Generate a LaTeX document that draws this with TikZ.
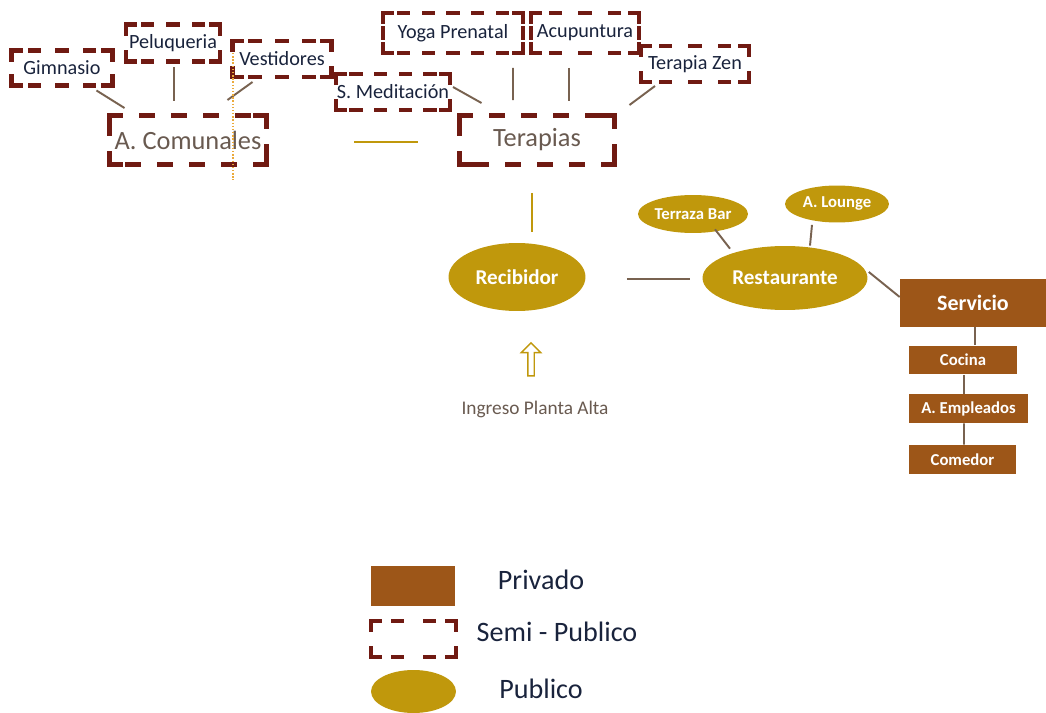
\documentclass[tikz,border=0pt]{standalone}
\usepackage{fontspec}
\setmainfont{Carlito}
\usetikzlibrary{decorations}
\usetikzlibrary{shapes.geometric}
\usetikzlibrary{shapes.arrows}
\definecolor{oro}{RGB}{192,152,12}
\definecolor{cafe}{RGB}{157,86,24}
\definecolor{vino}{RGB}{112,26,18}
\definecolor{linea}{RGB}{120,98,80}
\definecolor{tinta}{RGB}{25,35,60}
\definecolor{gris}{RGB}{105,90,80}
\definecolor{guia}{RGB}{235,170,60}

\begin{document}
\begin{tikzpicture}[
    x=0.02cm, y=-0.02cm,
    borde/.style={draw=vino, line width=0.085cm, line cap=rect, dash pattern=on 0.18cm off 0.3cm, dash expand off},
    borde grueso/.style={borde, line width=0.1cm, dash pattern=on 0.22cm off 0.42cm},
    esquina/.style={draw=vino, line width=#1, line cap=rect, line join=miter},
    marco/.style n args={3}{append after command={
        (\tikzlastnode.north west) edge[#1] (\tikzlastnode.north east)
        (\tikzlastnode.north east) edge[#1] (\tikzlastnode.south east)
        (\tikzlastnode.south east) edge[#1] (\tikzlastnode.south west)
        (\tikzlastnode.south west) edge[#1] (\tikzlastnode.north west)
        % corners
        ([shift={(0,#2)}]\tikzlastnode.north west) edge[esquina=#3, to path={|- (\tikztotarget)}] ([shift={(#2,0)}]\tikzlastnode.north west)
        ([shift={(-#2,0)}]\tikzlastnode.north east) edge[esquina=#3, to path={-| (\tikztotarget)}] ([shift={(0,#2)}]\tikzlastnode.north east)
        ([shift={(0,-#2)}]\tikzlastnode.south east) edge[esquina=#3, to path={|- (\tikztotarget)}] ([shift={(-#2,0)}]\tikzlastnode.south east)
        ([shift={(#2,0)}]\tikzlastnode.south west) edge[esquina=#3, to path={-| (\tikztotarget)}] ([shift={(0,-#2)}]\tikzlastnode.south west)}},
    semi/.style={marco={borde}{9}{0.085cm}, inner sep=0pt, outer sep=0pt, text=tinta, font=\fontsize{11.5}{13}\selectfont},
    zona/.style={marco={borde grueso}{11}{0.1cm}, inner sep=0pt, outer sep=0pt, text=gris, font=\fontsize{15}{17}\selectfont},
    publico/.style={ellipse, fill=oro, inner sep=0pt, text=white, font=\bfseries\fontsize{12}{14}\selectfont},
    chico/.style={publico, font=\bfseries\fontsize{9.5}{11}\selectfont},
    privado/.style={fill=cafe, inner sep=0pt, text=white, font=\bfseries\fontsize{9.5}{11}\selectfont},
    link/.style={draw=linea, line width=1.1pt},
    oro line/.style={draw=oro, line width=1.1pt},
    leyenda/.style={text=tinta, font=\fontsize{16}{18}\selectfont}
    ]
    \useasboundingbox (0,0) rectangle (1046,713);

    % semi - publico
    \node[zona, minimum width=3.14cm, minimum height=1cm] (acom) at (188,140) {A. Comunales};
    \node[semi, minimum width=2.02cm, minimum height=0.7cm] (gim) at (62,68) {Gimnasio};
    \node[semi, minimum width=1.88cm, minimum height=0.74cm] (pel) at (173,43) {Peluqueria};
    \node[semi, minimum width=1.98cm, minimum height=0.72cm] (ves) at (282,59) {Vestidores};
    \node[zona, minimum width=3.1cm, minimum height=1cm] (ter) at (537,140) {Terapias};
    \node[semi, minimum width=2.28cm, minimum height=0.72cm] (smed) at (393,92) {S. Meditación};
    \node[semi, minimum width=2.8cm, minimum height=0.8cm] (yoga) at (453,33) {Yoga Prenatal};
    \node[semi, minimum width=2.16cm, minimum height=0.8cm] (acu) at (585,33) {Acupuntura};
    \node[semi, minimum width=2.16cm, minimum height=0.72cm] (zen) at (695,64) {Terapia Zen};

    % publico
    \node[publico, minimum width=2.74cm, minimum height=1.36cm] (rec) at (517,277) {Recibidor};
    \node[publico, minimum width=3.3cm, minimum height=1.28cm] (rest) at (785,278) {Restaurante};
    \node[chico, minimum width=2.2cm, minimum height=0.76cm] (bar) at (693,214) {Terraza Bar};
    \node[chico, minimum width=2.08cm, minimum height=0.74cm] (lounge) at (837,204) {A. Lounge};

    % privado
    \node[privado, minimum width=2.92cm, minimum height=0.96cm, font=\bfseries\fontsize{12.5}{14}\selectfont] (serv) at (973,303) {Servicio};
    \node[privado, minimum width=2.16cm, minimum height=0.58cm] (coc) at (963,360) {Cocina};
    \node[privado, minimum width=2.38cm, minimum height=0.58cm] (emp) at (968.5,408.5) {A. Empleados};
    \node[privado, minimum width=2.14cm, minimum height=0.58cm] (com) at (962.5,459.5) {Comedor};

    % ingreso
    \node[single arrow, draw=oro, fill=white, line width=0.8pt, rotate=90, inner sep=0.05cm,
        single arrow head extend=0.13cm, minimum height=0.66cm] (flecha) at (531,361) {};
    \node[text=gris, font=\fontsize{11}{13}\selectfont] (ingreso) at (535,409) {Ingreso Planta Alta};

    % connectors
    \draw[link] ([shift={(-16,5)}]gim.south east) -- ([shift={(15,-7)}]acom.north west);
    \draw[link] ([shift={(1,6)}]pel.south) -- ([shift={(-14,-14)}]acom.north);
    \draw[link] ([shift={(20,5)}]ves.south west) -- ([shift={(-39,-15)}]acom.north east);
    \draw[link] ([shift={(3,-5)}]smed.east) -- ([shift={(22,-12)}]ter.north west);
    \draw[link] ([shift={(-10,15)}]yoga.south east) -- ([shift={(-24,-15)}]ter.north);
    \draw[link] ([shift={(-16,15)}]acu.south) -- ([shift={(32,-14)}]ter.north);
    \draw[link] ([shift={(14,4)}]zen.south west) -- ([shift={(15,-10)}]ter.north east);
    \draw[oro line] ([shift={(88,2)}]acom.east) -- ([shift={(-42,2)}]ter.west);
    \draw[oro line] ([shift={(-5,28)}]ter.south) -- ([shift={(15,-11)}]rec.north);
    \draw[link] ([shift={(41,2)}]rec.east) -- ([shift={(-12,1)}]rest.west);
    \draw[link] ([shift={(22,-4)}]bar.south) -- ([shift={(-55,3)}]rest.north);
    \draw[link] ([shift={(-25,2)}]lounge.south) -- ([shift={(25,0)}]rest.north);
    \draw[link] ([shift={(1,-6)}]rest.east) -- ([shift={(0,-6)}]serv.west);
    \draw[link] ([shift={(2,0)}]serv.south) -- ([shift={(12,0)}]coc.north);
    \draw[link] ([shift={(1,0)}]coc.south) -- ([shift={(-4.5,0)}]emp.north);
    \draw[link] ([shift={(-4.5,0)}]emp.south) -- ([shift={(1.5,0)}]com.north);
    % guide
    \draw[guia, densely dotted, line width=0.8pt] (233,53) -- (233,180);

    % legend
    \node[fill=cafe, minimum width=1.68cm, minimum height=0.8cm] (lpriv) at (413,586) {};
    \node[semi, minimum width=1.7cm, minimum height=0.72cm] (lsemi) at (413.5,639) {};
    \node[ellipse, fill=oro, minimum width=1.7cm, minimum height=0.86cm] (lpub) at (413.5,691.5) {};
    \node[leyenda] at (541,580) {Privado};
    \node[leyenda] at (557,632) {Semi - Publico};
    \node[leyenda] at (541,689) {Publico};
\end{tikzpicture}
\end{document}
